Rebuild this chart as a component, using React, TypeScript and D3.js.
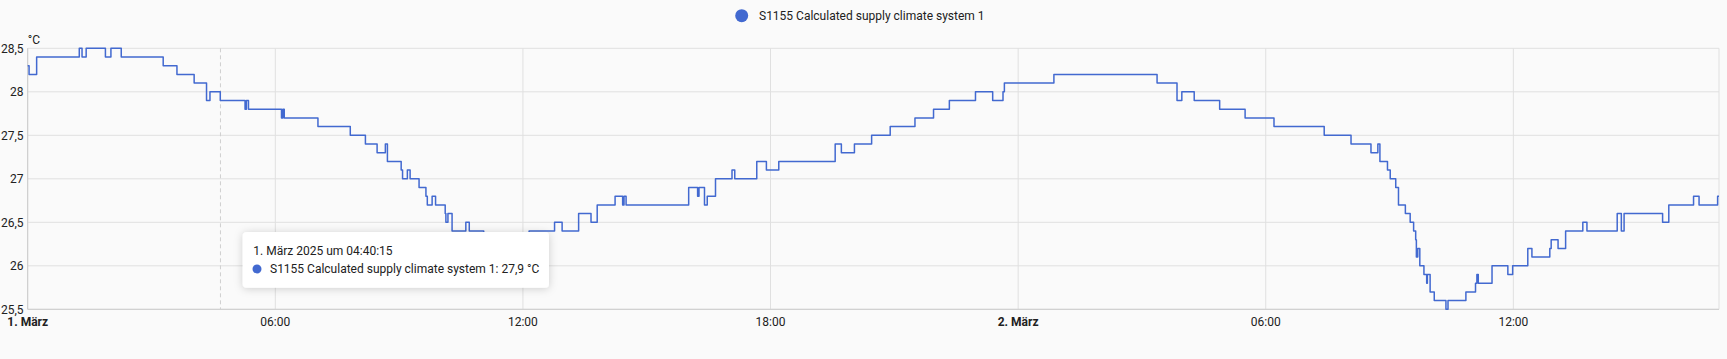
import { curveStepAfter, line, scaleLinear, scaleTime, timeFormat, timeHour } from 'd3'

const seriesName = 'S1155 Calculated supply climate system 1'
const unit = '°C'

const day1Times = ['00:00', '00:02', '00:13', '01:15', '01:19', '01:25', '01:53', '02:01', '02:16', '03:17', '03:37', '04:02', '04:20', '04:25', '04:40', '05:16', '05:18', '05:21', '06:09', '06:11', '06:13', '07:02', '07:49', '08:11', '08:28', '08:40', '08:43', '09:03', '09:05', '09:12', '09:16', '09:29', '09:39', '09:41', '09:48', '09:53', '10:07', '10:08', '10:11', '10:17', '10:37', '10:42', '11:03', '12:09', '12:46', '12:57', '13:21', '13:39', '13:48', '14:14', '14:25', '14:27', '14:30', '16:01', '16:14', '16:16', '16:24', '16:28', '16:40', '17:04', '17:08', '17:40', '17:54', '18:12', '19:34', '19:43', '20:02', '20:27', '20:54', '21:30', '21:57', '22:20', '22:58', '23:23', '23:38', '23:40']
const day1Values = [28.3, 28.2, 28.4, 28.5, 28.4, 28.5, 28.4, 28.5, 28.4, 28.3, 28.2, 28.1, 27.9, 28.0, 27.9, 27.8, 27.9, 27.8, 27.7, 27.8, 27.7, 27.6, 27.5, 27.4, 27.3, 27.4, 27.2, 27.1, 27.0, 27.1, 27.0, 26.9, 26.8, 26.7, 26.8, 26.7, 26.6, 26.5, 26.6, 26.4, 26.5, 26.4, 26.3, 26.4, 26.5, 26.4, 26.6, 26.5, 26.7, 26.8, 26.7, 26.8, 26.7, 26.9, 26.8, 26.9, 26.7, 26.8, 27.0, 27.1, 27.0, 27.2, 27.1, 27.2, 27.4, 27.3, 27.4, 27.5, 27.6, 27.7, 27.8, 27.9, 28.0, 27.9, 28.0, 28.1]

const day2Times = ['00:52', '03:22', '03:51', '03:58', '04:16', '04:53', '05:30', '06:12', '07:25', '08:04', '08:33', '08:43', '08:46', '08:57', '09:01', '09:09', '09:13', '09:23', '09:30', '09:35', '09:38', '09:39', '09:41', '09:44', '09:50', '09:54', '09:55', '09:59', '10:05', '10:22', '10:25', '10:51', '11:05', '11:07', '11:09', '11:29', '11:52', '11:59', '12:21', '12:27', '12:53', '12:55', '13:05', '13:16', '13:41', '13:47', '14:31', '14:37', '14:41', '15:37', '15:46', '16:22', '16:30', '16:57', '16:59']
const day2Values = [28.2, 28.1, 27.9, 28.0, 27.9, 27.8, 27.7, 27.6, 27.5, 27.4, 27.3, 27.4, 27.2, 27.1, 27.0, 26.9, 26.7, 26.6, 26.5, 26.4, 26.3, 26.1, 26.2, 26.0, 25.9, 25.8, 25.9, 25.7, 25.6, 25.5, 25.6, 25.7, 25.8, 25.9, 25.8, 26.0, 25.9, 26.0, 26.2, 26.1, 26.2, 26.3, 26.2, 26.4, 26.5, 26.4, 26.6, 26.4, 26.6, 26.5, 26.7, 26.8, 26.7, 26.8, 26.8]

const yTicks = [25.5, 26, 26.5, 27, 27.5, 28, 28.5]
const monthNames = ['Januar', 'Februar', 'März']

const tooltipTime = '04:40:15'
const tooltipValue = 27.9

const width = 1727
const height = 359
const plot = { left: 27.7, right: 1719, top: 48.3, bottom: 309.3 }

const lineColor = '#4269d0'
const gridColor = '#e0e0e0'
const textColor = '#212121'
const font = 'Roboto, "Noto Sans", sans-serif'

type Point = { date: Date; value: number }

function toDate(day: number, time: string) {
  const [h, m, s] = time.split(':').map(Number)
  return new Date(2025, 2, day, h, m, s ?? 0)
}

const points: Point[] = [
  ...day1Times.map((t, i) => ({ date: toDate(1, t), value: day1Values[i] })),
  ...day2Times.map((t, i) => ({ date: toDate(2, t), value: day2Values[i] })),
]

const formatHour = timeFormat('%H:%M')
const formatNumber = (v: number) => String(v).replace('.', ',')

function App() {
  const xScale = scaleTime()
    .domain([toDate(1, '00:00'), toDate(2, '16:59')])
    .range([plot.left, plot.right])

  const yScale = scaleLinear().domain([25.5, 28.5]).range([plot.bottom, plot.top])

  const xTicks = xScale.ticks(timeHour.every(6)!)

  const path = line<Point>()
    .x((d) => xScale(d.date))
    .y((d) => yScale(d.value))
    .curve(curveStepAfter)(points)

  const hoverX = xScale(toDate(1, tooltipTime))

  const tip = { x: 242.7, y: 232, w: 306.3, h: 55.7 }

  return (
    <div
      style={{
        position: 'fixed',
        left: 0,
        top: 0,
        width,
        height,
        background: '#fafafa',
      }}
    >
      <svg width={width} height={height} style={{ display: 'block', fontFamily: font }}>
        <defs>
          <filter id="tipShadow" x="-20%" y="-40%" width="140%" height="180%">
            <feDropShadow dx="0" dy="1" stdDeviation="4" floodColor="#000" floodOpacity="0.18" />
          </filter>
        </defs>

        {/* legend */}
        <circle cx={741.7} cy={15.7} r={6.5} fill={lineColor} />
        <text x={759} y={15.7} dy="0.35em" fontSize={12} fill={textColor}>
          {seriesName}
        </text>

        {/* grid */}
        {yTicks.map((tick) => (
          <line
            key={`y-${tick}`}
            x1={plot.left}
            x2={plot.right}
            y1={yScale(tick)}
            y2={yScale(tick)}
            stroke={gridColor}
            strokeWidth={1}
          />
        ))}
        {xTicks.map((tick) => (
          <line
            key={`x-${tick.getTime()}`}
            x1={xScale(tick)}
            x2={xScale(tick)}
            y1={plot.top}
            y2={plot.bottom}
            stroke={gridColor}
            strokeWidth={1}
          />
        ))}
        <line x1={plot.right} x2={plot.right} y1={plot.top} y2={plot.bottom} stroke={gridColor} />
        <line x1={plot.left} x2={plot.left} y1={plot.top} y2={plot.bottom} stroke="#cccccc" />
        <line x1={plot.left} x2={plot.right} y1={plot.bottom} y2={plot.bottom} stroke="#cccccc" />

        {/* hover line */}
        <line
          x1={hoverX}
          x2={hoverX}
          y1={plot.top}
          y2={plot.bottom}
          stroke="#cfcfcf"
          strokeDasharray="4 3"
        />

        {/* axis labels */}
        <text x={plot.left} y={40} dy="0.35em" fontSize={12} fill={textColor}>
          {unit}
        </text>
        {yTicks.map((tick) => (
          <text
            key={`yl-${tick}`}
            x={23.5}
            y={yScale(tick)}
            dy="0.35em"
            textAnchor="end"
            fontSize={12}
            fill={textColor}
          >
            {formatNumber(tick)}
          </text>
        ))}
        {xTicks.map((tick) => {
          const isDay = tick.getHours() === 0
          return (
            <text
              key={`xl-${tick.getTime()}`}
              x={xScale(tick)}
              y={322}
              dy="0.35em"
              textAnchor="middle"
              fontSize={12}
              fontWeight={isDay ? 700 : 400}
              fill={textColor}
            >
              {isDay ? `${tick.getDate()}. ${monthNames[tick.getMonth()]}` : formatHour(tick)}
            </text>
          )
        })}

        {/* series */}
        <path d={path ?? ''} fill="none" stroke={lineColor} strokeWidth={1.5} strokeLinejoin="round" />

        {/* tooltip */}
        <rect
          x={tip.x}
          y={tip.y}
          width={tip.w}
          height={tip.h}
          rx={4}
          fill="#ffffff"
          filter="url(#tipShadow)"
        />
        <text x={253.3} y={251} dy="0.35em" fontSize={12} fill={textColor}>
          {`1. März 2025 um ${tooltipTime}`}
        </text>
        <circle cx={257} cy={269} r={4.5} fill={lineColor} />
        <text x={270} y={269} dy="0.35em" fontSize={12} fill={textColor}>
          {`${seriesName}: ${formatNumber(tooltipValue)} ${unit}`}
        </text>
      </svg>
    </div>
  )
}

export default App
